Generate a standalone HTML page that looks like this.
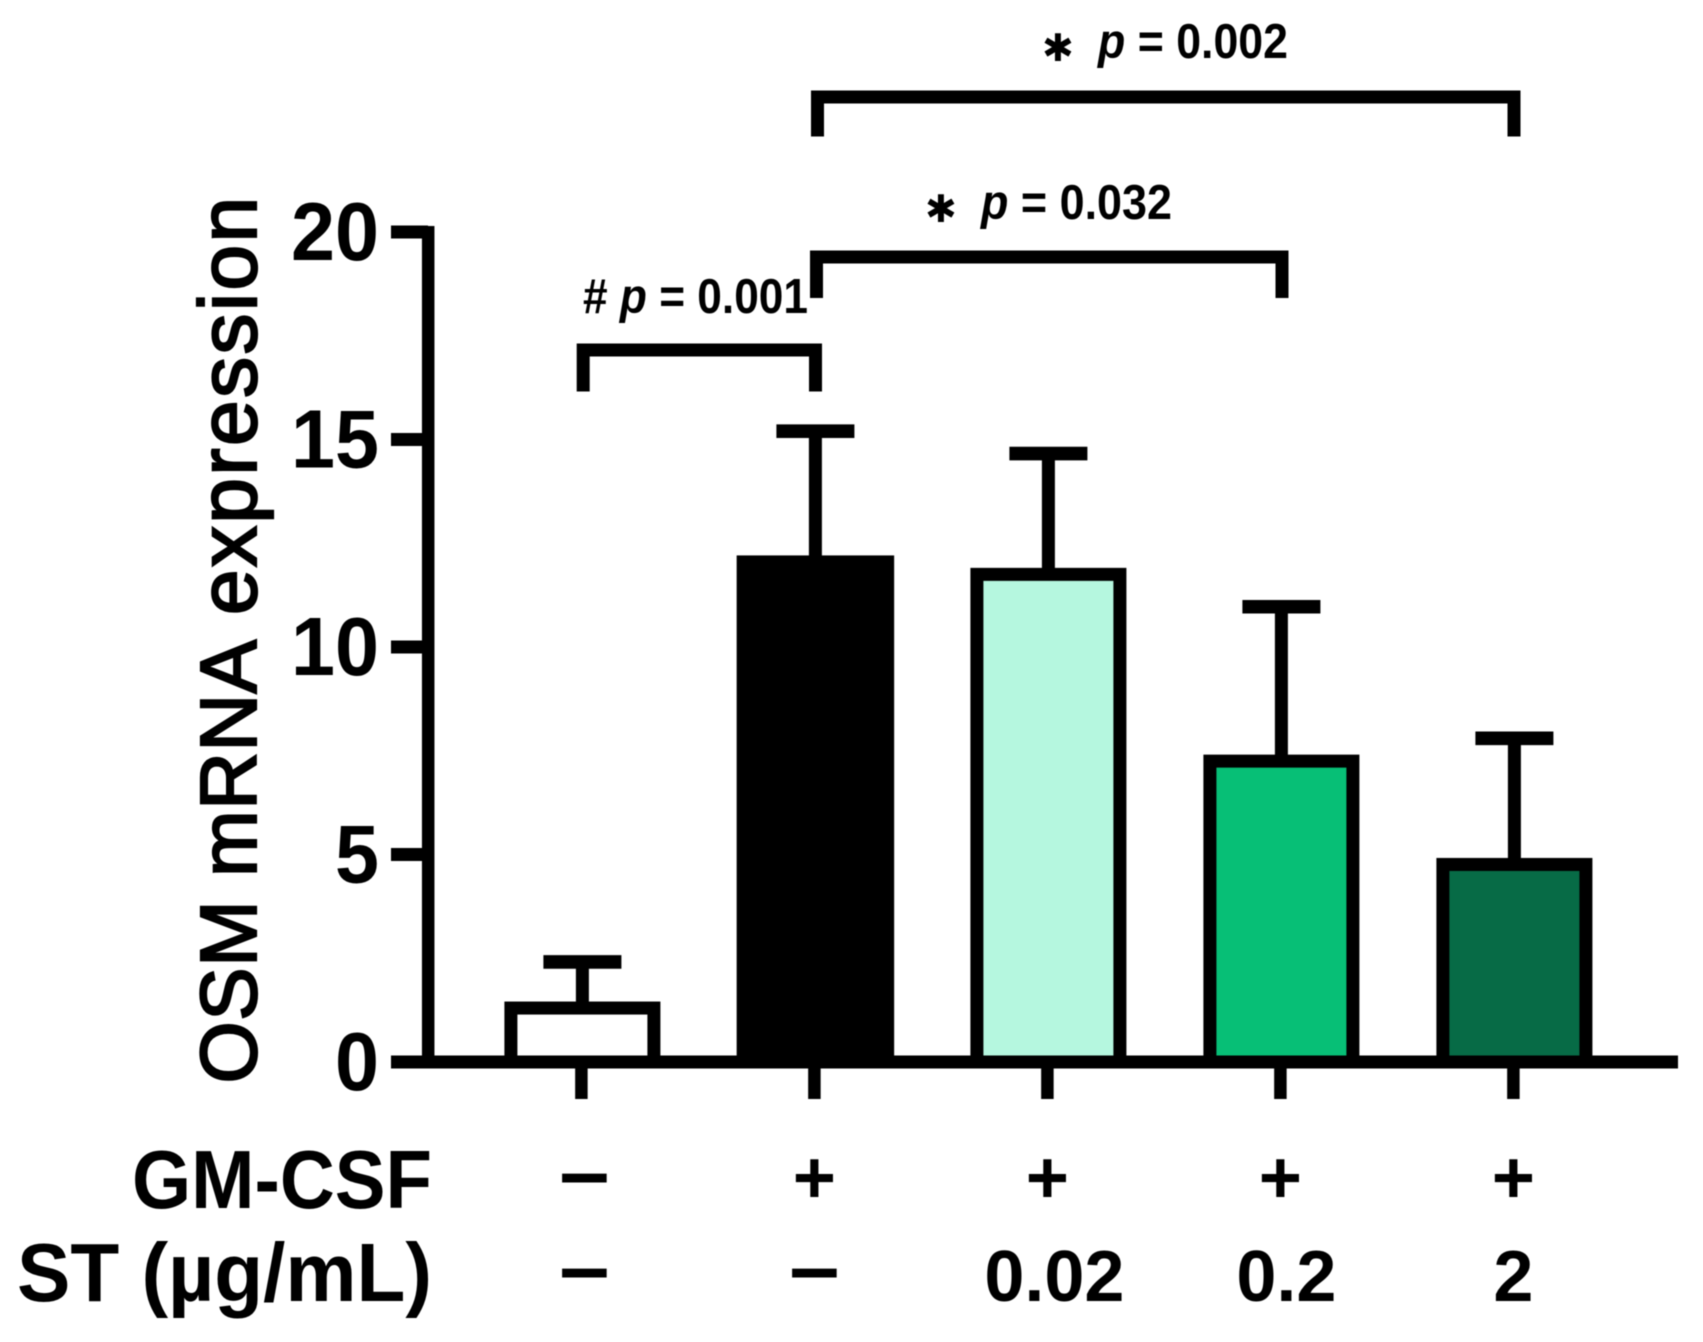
<!DOCTYPE html>
<html lang="en">
<head>
<meta charset="utf-8">
<title>OSM mRNA expression</title>
<style>
  html, body { margin: 0; padding: 0; background: #fff; }
  svg { display: block; filter: blur(0.5px); }
  text { font-family: "Liberation Sans", sans-serif; fill: #000; }
  .b { font-weight: bold; }
  .ann { font-weight: bold; font-size: 49px; }
  .ast { font-family: "DejaVu Sans", sans-serif; font-weight: bold; font-size: 38px; }
</style>
</head>
<body>
<svg id="chart" xmlns="http://www.w3.org/2000/svg" width="1703" height="1342" viewBox="0 0 1703 1342">
  <rect x="0" y="0" width="1703" height="1342" fill="#fff"/>
  <g id="bars"></g>
  <g id="axes"></g>
  <g id="labels"></g>

  <text transform="translate(256,1083.5) rotate(-90)" font-size="80" stroke="#000" stroke-width="2.2"><tspan x="0" style="letter-spacing:0.5px">OSM mRNA</tspan> <tspan x="468.5" font-size="82" style="letter-spacing:2.4px">expression</tspan></text>

  <text class="b" x="132" y="1208" font-size="83" textLength="300" lengthAdjust="spacingAndGlyphs">GM-CSF</text>
  <text class="b" x="17" y="1301" font-size="83" textLength="415" lengthAdjust="spacingAndGlyphs">ST (µg/mL)</text>

  <path d="M583.2 391.5V350H815.5V391.5" fill="none" stroke="#000" stroke-width="13"/>
  <path d="M816.5 298V257H1282V298" fill="none" stroke="#000" stroke-width="13"/>
  <path d="M817.5 136.5V97H1514V136.5" fill="none" stroke="#000" stroke-width="13"/>

  <text class="ann" x="583" y="313" textLength="225" lengthAdjust="spacingAndGlyphs"># <tspan font-style="italic">p</tspan> = 0.001</text>

  <text class="ast" x="925" y="222">✱</text>
  <text class="ann" x="981" y="219" textLength="191" lengthAdjust="spacingAndGlyphs"><tspan font-style="italic">p</tspan> = 0.032</text>

  <text class="ast" x="1042" y="61">✱</text>
  <text class="ann" x="1098" y="58" textLength="190" lengthAdjust="spacingAndGlyphs"><tspan font-style="italic">p</tspan> = 0.002</text>
</svg>

<script>
const categories = ['control', 'gm-csf', 'st-0-02', 'st-0-2', 'st-2'];
const meanValues = [1.3, 12.05, 11.75, 7.25, 4.76];
const upperErrorValues = [2.41, 15.2, 14.66, 10.97, 7.8];
const yTicks = [0, 5, 10, 15, 20];
const gmCsfLabels = ['–', '+', '+', '+', '+'];
const stLabels = ['–', '–', '0.02', '0.2', '2'];
const barFills = ['#ffffff', '#000000', '#b5f7df', '#07bf76', '#076b46'];

const NS = 'http://www.w3.org/2000/svg';
const plotBase = 1062;
const unitHeight = 41.5;
const firstCenter = 582.4;
const bandStep = 233;
const barWidth = 143;
const yScale = function (v) { return plotBase - v * unitHeight; };
const xScale = function (i) { return firstCenter + bandStep * i; };

function make(tag, parent, attrs) {
  const el = document.createElementNS(NS, tag);
  Object.keys(attrs).forEach(function (k) { el.setAttribute(k, attrs[k]); });
  parent.appendChild(el);
  return el;
}

const barsGroup = document.getElementById('bars');
const axesGroup = document.getElementById('axes');
const labelsGroup = document.getElementById('labels');

categories.forEach(function (cat, i) {
  const cx = xScale(i);
  const top = yScale(meanValues[i]);
  const capY = yScale(upperErrorValues[i]);
  const w = barWidth + (i === 1 ? 1.5 : 0);

  const stem = make('line', barsGroup, { x1: cx, x2: cx, y1: capY, y2: top, stroke: '#000', 'stroke-width': 13 });
  
  

  const cap = make('line', barsGroup, { x1: cx - 39, x2: cx + 39, y1: capY, y2: capY, stroke: '#000', 'stroke-width': 13.6 });
  
  

  const bar = make('rect', barsGroup, { x: cx - w / 2, y: top, width: w, height: plotBase - top, fill: barFills[i], stroke: '#000', 'stroke-width': 13 });
  
  

  const tick = make('line', axesGroup, { x1: cx - 1, x2: cx - 1, y1: plotBase, y2: 1099, stroke: '#000', 'stroke-width': 12.5 });
  
  

  const isPlus = gmCsfLabels[i] === '+';
  const gm = make('text', labelsGroup, { x: cx - (i === 0 ? -2 : 1), y: isPlus ? 1203 : 1202, 'text-anchor': 'middle', 'font-size': isPlus ? 74 : 90, class: 'b' });
  gm.textContent = gmCsfLabels[i];
  
  

  const dash = stLabels[i] === '–';
  const st = make('text', labelsGroup, { x: dash ? cx + (i === 0 ? 2 : -1) : cx + [0, 0, 6, 5, -1][i], y: dash ? 1297 : 1301, 'text-anchor': 'middle', 'font-size': dash ? 90 : 72, class: 'b' });
  st.textContent = stLabels[i];
  
  
});

const yAxisLine = make('line', axesGroup, { x1: 428.2, x2: 428.2, y1: yScale(20) - 6, y2: plotBase, stroke: '#000', 'stroke-width': 12.5 });



const xAxisLine = make('line', axesGroup, { x1: 391, x2: 1678, y1: plotBase, y2: plotBase, stroke: '#000', 'stroke-width': 13 });



yTicks.forEach(function (t) {
  const y = yScale(t);
  const mark = make('line', axesGroup, { x1: 391, x2: 428, y1: y, y2: y, stroke: '#000', 'stroke-width': 13 });
  
  

  const label = make('text', axesGroup, { x: 379, y: y + 28, 'text-anchor': 'end', 'font-size': 83, textLength: String(t).length * 44, lengthAdjust: 'spacingAndGlyphs', class: 'b' });
  label.textContent = String(t);
  
  
});
</script>
</body>
</html>
